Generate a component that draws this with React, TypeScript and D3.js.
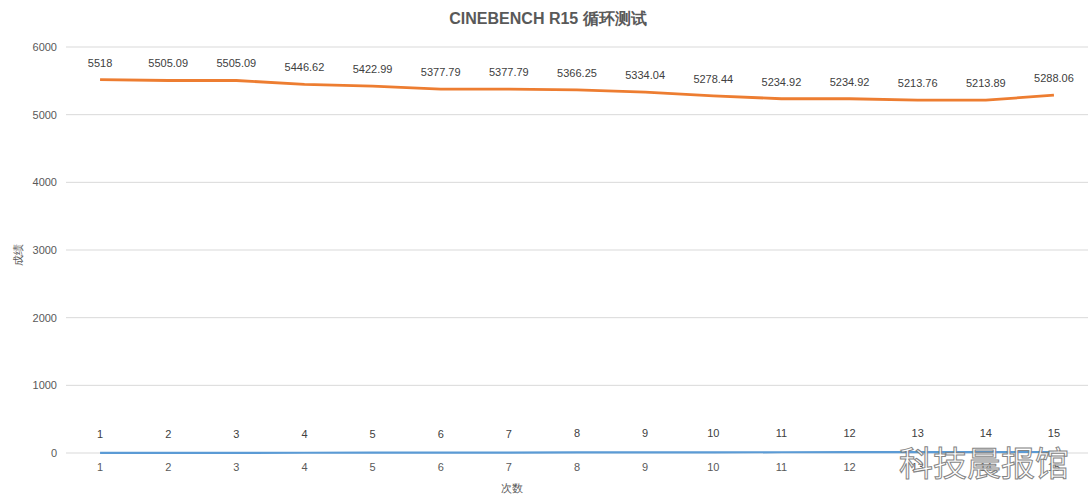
import React from "react";
import * as d3 from "d3";

const categories = ["1","2","3","4","5","6","7","8","9","10","11","12","13","14","15"];
const seriesCount = [1,2,3,4,5,6,7,8,9,10,11,12,13,14,15];
const seriesScore = [5518,5505.09,5505.09,5446.62,5422.99,5377.79,5377.79,5366.25,5334.04,5278.44,5234.92,5234.92,5213.76,5213.89,5288.06];
const yTicks = [0,1000,2000,3000,4000,5000,6000];

const W = 1090, H = 502;
const left = 66, right = 1088, top = 47, bottom = 453;
const font = "'Liberation Sans', Arial, sans-serif";

export default function App() {
  const x = d3.scaleBand<string>().domain(categories).range([left, right]);
  const y = d3.scaleLinear().domain([0, 6000]).range([bottom, top]);
  const cx = (c: string) => (x(c) as number) + x.bandwidth() / 2;
  const line = d3.line<number>().x((_, i) => cx(categories[i])).y(d => y(d));
  return (
    <svg width={W} height={H} style={{ position: "absolute", left: 0, top: 0, background: "#fff" }}>
      <rect width={W} height={H} fill="#fff" />
      <text x={548} y={24} textAnchor="middle" fontFamily={font} fontWeight="bold" fontSize={16} fill="#595959">CINEBENCH R15 循环测试</text>
      {yTicks.map(t => (
        <g key={t}>
          <line x1={left} x2={right} y1={y(t)} y2={y(t)} stroke="#D9D9D9" strokeWidth={1} />
          <text x={57} y={y(t) + 4} textAnchor="end" fontFamily={font} fontSize={11} fill="#595959">{t}</text>
        </g>
      ))}
      {categories.map(c => (
        <text key={c} x={cx(c)} y={471} textAnchor="middle" fontFamily={font} fontSize={11} fill="#595959">{c}</text>
      ))}
      <text x={512} y={492} textAnchor="middle" fontFamily={font} fontSize={11} fill="#595959">次数</text>
      <text transform={`translate(22,255) rotate(-90)`} textAnchor="middle" fontFamily={font} fontSize={11} fill="#595959">成绩</text>
      <path d={line(seriesCount) as string} fill="none" stroke="#5B9BD5" strokeWidth={2.2} />
      <path d={line(seriesScore) as string} fill="none" stroke="#ED7D31" strokeWidth={2.8} strokeLinejoin="round" />
      {seriesCount.map((v, i) => (
        <text key={"b" + i} x={cx(categories[i])} y={y(v) - 15} textAnchor="middle" fontFamily={font} fontSize={11} fill="#404040">{v}</text>
      ))}
      {seriesScore.map((v, i) => (
        <text key={"o" + i} x={cx(categories[i])} y={y(v) - 13} textAnchor="middle" fontFamily={font} fontSize={11} fill="#404040">{v}</text>
      ))}
      <text x={984} y={476} textAnchor="middle" fontFamily="'Noto Sans CJK SC', sans-serif" fontSize={34} fill="#fff" stroke="#777" strokeWidth={1} opacity={0.9}>科技晨报馆</text>
    </svg>
  );
}
